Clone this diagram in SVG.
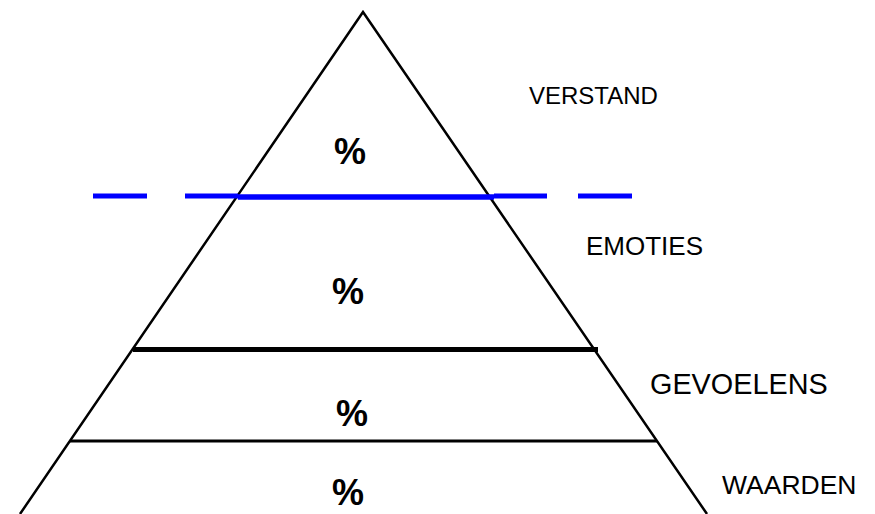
<svg xmlns="http://www.w3.org/2000/svg" width="875" height="514" viewBox="0 0 875 514">
<style>
.side{stroke:#000;stroke-width:2.5;fill:none}
.pct{font-family:"Liberation Sans",Arial,sans-serif;font-weight:bold;font-size:36px;text-anchor:middle;fill:#000}
.lbl{font-family:"Liberation Sans",Arial,sans-serif;fill:#000}
.dash{stroke:#0000ff;stroke-width:5}
</style>
<rect width="875" height="514" fill="#fff"/>
<g id="pyramid">
<polyline class="side" points="20,514 363,12 707,514"/>
</g>
<g id="connectors">
<line class="dash" x1="93" y1="196" x2="147" y2="196"/>
<line class="dash" x1="185" y1="196" x2="238" y2="196"/>
<line class="dash" x1="238" y1="197" x2="494" y2="197" style="stroke-width:5.5"/>
<line class="dash" x1="494" y1="196" x2="547" y2="196"/>
<line class="dash" x1="578" y1="196" x2="632" y2="196"/>
<line x1="133" y1="349.5" x2="598" y2="349.5" stroke="#000" stroke-width="5"/>
<line x1="70" y1="441" x2="657" y2="441" stroke="#000" stroke-width="3"/>
</g>
<g id="node-verstand">
<text class="pct" x="350" y="164">%</text>
<text class="lbl" x="529" y="104" font-size="24">VERSTAND</text>
</g>
<g id="node-emoties">
<text class="pct" x="348" y="304">%</text>
<text class="lbl" x="586" y="255" font-size="26">EMOTIES</text>
</g>
<g id="node-gevoelens">
<text class="pct" x="352" y="426">%</text>
<text class="lbl" x="650" y="394" font-size="28.8">GEVOELENS</text>
</g>
<g id="node-waarden">
<text class="pct" x="348" y="505">%</text>
<text class="lbl" x="722" y="494" font-size="26.5">WAARDEN</text>
</g>
</svg>
